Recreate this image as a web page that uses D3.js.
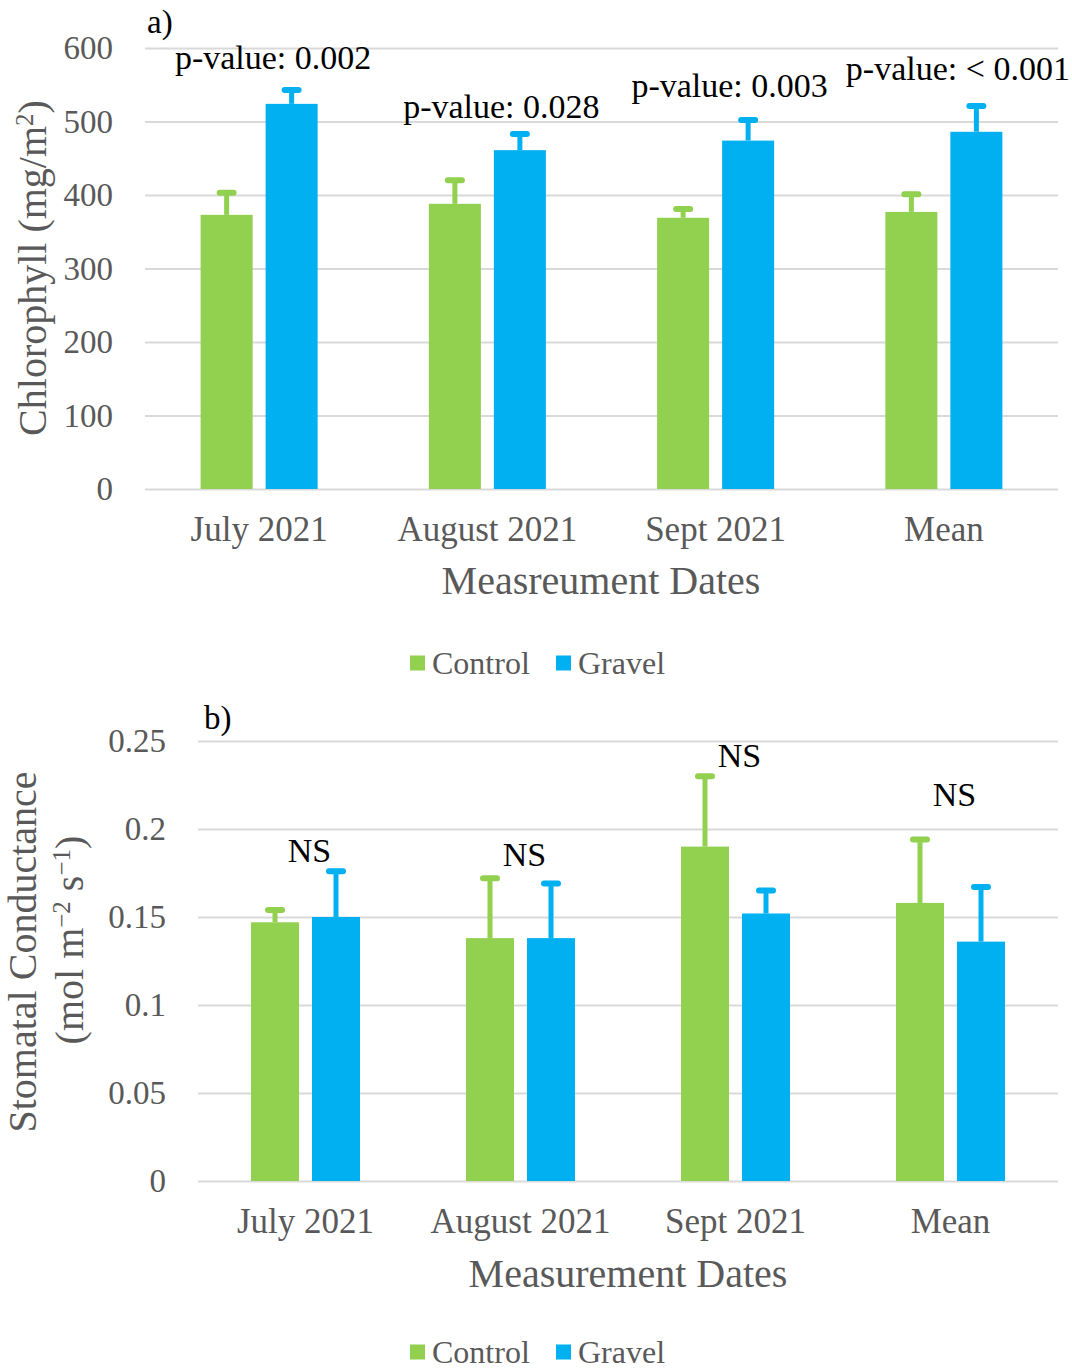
<!DOCTYPE html>
<html>
<head>
<meta charset="utf-8">
<script src="https://cdn.jsdelivr.net/npm/d3@7"></script>
<style>
  body { margin: 0; background: #fff; }
  text { font-family: "Liberation Serif", "Times New Roman", serif; }
</style>
</head>
<body>
<div id="chart"></div>
<script>
const categories = ["July 2021", "August 2021", "Sept 2021", "Mean"];
const series = ["Control", "Gravel"];

// a) chlorophyll
const chlControl = [373, 388, 369, 377];
const chlControlErr = [30, 32, 12, 24];
const chlGravel = [524, 461, 474, 486];
const chlGravelErr = [19, 22, 28, 35];
const chlTicks = [0, 100, 200, 300, 400, 500, 600];
const pLabels = ["p-value: 0.002", "p-value: 0.028", "p-value: 0.003", "p-value: < 0.001"];
const pLabelY = [571, 505, 534, 557];

// b) stomatal conductance
const gsControl = [0.147, 0.138, 0.190, 0.158];
const gsControlErr = [0.007, 0.034, 0.040, 0.036];
const gsGravel = [0.150, 0.138, 0.152, 0.136];
const gsGravelErr = [0.026, 0.031, 0.013, 0.031];
const gsTicks = [0, 0.05, 0.1, 0.15, 0.2, 0.25];
const gsTickLabels = ["0", "0.05", "0.1", "0.15", "0.2", "0.25"];
const nsLabels = ["NS", "NS", "NS", "NS"];
const nsLabelY = [0.181, 0.179, 0.235, 0.213];

const color = d3.scaleOrdinal().domain(series).range(["#92D050", "#00B0F0"]);

const svg = d3.select("#chart")
  .append("svg")
  .attr("width", 1072)
  .attr("height", 1371);

function panel(opt) {
  const x = d3.scaleBand()
    .domain(categories)
    .range([opt.left, opt.right]);

  const y = d3.scaleLinear()
    .domain(opt.domain)
    .range([opt.bottom, opt.top]);

  const xSub = d3.scaleBand()
    .domain(series)
    .range([-(opt.barW + opt.gap / 2), opt.barW + opt.gap / 2])
    .paddingInner(opt.gap / (opt.barW + opt.gap));

  // gridlines + y ticks
  const yAxis = svg.append("g")
    .attr("transform", `translate(${opt.left},0)`)
    .call(d3.axisLeft(y)
      .tickValues(opt.ticks)
      .tickFormat((d, i) => opt.tickLabels[i])
      .tickSize(-(opt.right - opt.left))
      .tickPadding(32));
  yAxis.select(".domain").remove();
  yAxis.selectAll("line").attr("stroke", "#d9d9d9").attr("stroke-width", 2);
  yAxis.selectAll("text")
    .attr("fill", "#595959")
    .style("font-size", "33px");

  // x ticks
  const xAxis = svg.append("g")
    .attr("transform", `translate(0,${opt.bottom})`)
    .call(d3.axisBottom(x).tickSize(0).tickPadding(27));
  xAxis.select(".domain").remove();
  xAxis.selectAll("text")
    .attr("fill", "#595959")
    .style("font-size", "35px");

  const rows = categories.map((c, i) => series.map((s, j) => ({
    cat: c,
    key: s,
    value: opt.values[j][i],
    err: opt.errs[j][i]
  })));

  const groups = svg.append("g")
    .selectAll("g")
    .data(rows)
    .join("g")
    .attr("transform", d => `translate(${x(d[0].cat) + x.bandwidth() / 2},0)`);

  groups.selectAll("rect")
    .data(d => d)
    .join("rect")
    .attr("x", d => xSub(d.key))
    .attr("width", xSub.bandwidth())
    .attr("y", d => y(d.value))
    .attr("height", d => y(0) - y(d.value))
    .attr("fill", d => color(d.key));

  // error bars (upper only)
  groups.selectAll("line.err")
    .data(d => d)
    .join("line")
    .attr("class", "err")
    .attr("x1", d => xSub(d.key) + xSub.bandwidth() / 2)
    .attr("x2", d => xSub(d.key) + xSub.bandwidth() / 2)
    .attr("y1", d => y(d.value))
    .attr("y2", d => y(d.value + d.err))
    .attr("stroke", d => color(d.key))
    .attr("stroke-width", 5);

  groups.selectAll("line.cap")
    .data(d => d)
    .join("line")
    .attr("class", "cap")
    .attr("x1", d => xSub(d.key) + xSub.bandwidth() / 2 - 7)
    .attr("x2", d => xSub(d.key) + xSub.bandwidth() / 2 + 7)
    .attr("y1", d => y(d.value + d.err))
    .attr("y2", d => y(d.value + d.err))
    .attr("stroke", d => color(d.key))
    .attr("stroke-width", 6)
    .attr("stroke-linecap", "round");

  // annotations
  svg.append("g")
    .selectAll("text")
    .data(opt.notes)
    .join("text")
    .attr("x", (d, i) => x(categories[i]) + x.bandwidth() / 2 + opt.noteDx)
    .attr("y", (d, i) => y(opt.noteY[i]))
    .attr("text-anchor", "middle")
    .style("font-size", opt.noteSize + "px")
    .attr("fill", "#000")
    .text(d => d);

  // panel letter
  svg.append("text")
    .attr("x", opt.letterX)
    .attr("y", opt.letterY)
    .style("font-size", "33px")
    .attr("fill", "#000")
    .text(opt.letter);

  // x title
  svg.append("text")
    .attr("x", opt.xTitleX)
    .attr("y", opt.xTitleY)
    .attr("text-anchor", "middle")
    .style("font-size", "40px")
    .attr("fill", "#595959")
    .text(opt.xTitle);

  // legend
  const size = 15;
  const legend = svg.append("g")
    .attr("transform", `translate(0,${opt.legendY})`);
  const lx = [410, 556];
  legend.selectAll("rect")
    .data(series)
    .join("rect")
    .attr("x", (d, i) => lx[i])
    .attr("y", -size / 2)
    .attr("width", size)
    .attr("height", size)
    .attr("fill", d => color(d));
  legend.selectAll("text")
    .data(series)
    .join("text")
    .attr("x", (d, i) => lx[i] + size + 7)
    .attr("y", 0)
    .attr("dy", "0.35em")
    .style("font-size", "32px")
    .attr("fill", "#595959")
    .text(d => d);

  return { x, y };
}

panel({
  left: 145, right: 1058, top: 48, bottom: 489,
  domain: [0, 600], ticks: chlTicks, tickLabels: chlTicks.map(String),
  barW: 52, gap: 13,
  values: [chlControl, chlGravel], errs: [chlControlErr, chlGravelErr],
  notes: pLabels, noteY: pLabelY, noteDx: 14, noteSize: 34,
  letter: "a)", letterX: 147, letterY: 33,
  xTitle: "Measreument Dates", xTitleX: 601, xTitleY: 594,
  legendY: 663
});

panel({
  left: 198, right: 1058, top: 741, bottom: 1181,
  domain: [0, 0.25], ticks: gsTicks, tickLabels: gsTickLabels,
  barW: 48, gap: 13,
  values: [gsControl, gsGravel], errs: [gsControlErr, gsGravelErr],
  notes: nsLabels, noteY: nsLabelY, noteDx: 4, noteSize: 34,
  letter: "b)", letterX: 204, letterY: 729,
  xTitle: "Measurement Dates", xTitleX: 628, xTitleY: 1287,
  legendY: 1352
});

// y titles
svg.append("text")
  .attr("transform", "translate(46,268) rotate(-90)")
  .attr("text-anchor", "middle")
  .style("font-size", "40px")
  .attr("fill", "#595959")
  .html('Chlorophyll (mg/m<tspan baseline-shift="super" font-size="25px">2</tspan>)');

svg.append("text")
  .attr("transform", "translate(36,952) rotate(-90)")
  .attr("text-anchor", "middle")
  .style("font-size", "40px")
  .attr("fill", "#595959")
  .text("Stomatal Conductance");

svg.append("text")
  .attr("transform", "translate(83,940) rotate(-90)")
  .attr("text-anchor", "middle")
  .style("font-size", "40px")
  .attr("fill", "#595959")
  .html('(mol m<tspan baseline-shift="super" font-size="25px">\u22122</tspan> s<tspan baseline-shift="super" font-size="25px">\u22121</tspan>)');
</script>
</body>
</html>
